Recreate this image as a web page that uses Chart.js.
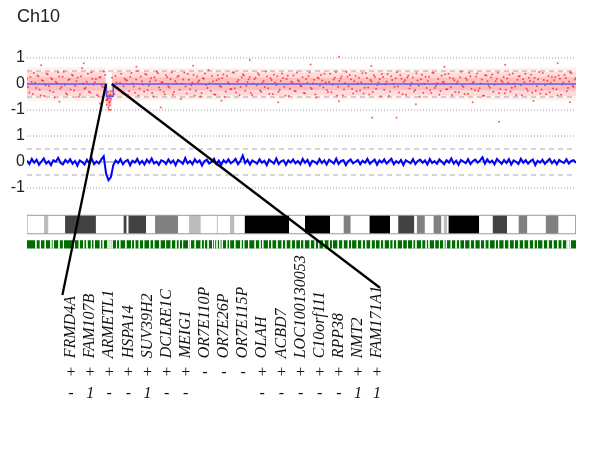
<!DOCTYPE html>
<html lang="en">
<head>
    <meta charset="UTF-8">
    <title>Ch10 copy number</title>
    <script src="https://cdn.jsdelivr.net/npm/chart.js"></script>
    <style>
        body { margin: 0; background: #fff; }
    </style>
</head>
<body>
<canvas id="cnChart" width="600" height="450"></canvas>

<script>
    // chromosome 10, positions in Mb
    const chrLength = 135.5;

    // y axis: upper panel (raw log ratio) around 0, lower panel (smoothed) shifted down
    const lowerOffset = -3;
    const yTickVals = [1, 0, -1, -2, -3, -4];
    const yTickText = ['1', '0', '-1', '1', '0', '-1'];
    const refLevels = [1, 0.5, -0.5, -1];

    // segmentation of the raw data
    const segStart = [0, 19.6, 21.3];
    const segEnd = [19.6, 21.3, 135.5];
    const segMean = [0, -0.47, 0];

    // envelopes of the dense probe cloud (outer, middle, core)
    const cloudX = [0, 19.4, 19.5, 20.9, 21.0, 40, 60, 80, 100, 120, 135.5];
    const outerHi = [0.64, 0.64, -0.1, -0.1, 0.64, 0.62, 0.6, 0.6, 0.6, 0.62, 0.64];
    const outerLo = [-0.64, -0.64, -1.0, -1.0, -0.64, -0.62, -0.6, -0.6, -0.6, -0.62, -0.64];
    const midHi = [0.46, 0.46, -0.2, -0.2, 0.46, 0.45, 0.44, 0.44, 0.44, 0.45, 0.46];
    const midLo = [-0.46, -0.46, -0.88, -0.88, -0.46, -0.45, -0.44, -0.44, -0.44, -0.45, -0.46];
    const coreHi = [0.26, 0.26, -0.3, -0.3, 0.26, 0.25, 0.24, 0.24, 0.24, 0.25, 0.26];
    const coreLo = [-0.26, -0.26, -0.75, -0.75, -0.26, -0.25, -0.24, -0.24, -0.24, -0.25, -0.26];

    // sampled raw probes along the chromosome (two interleaved runs)
    const rawLogR = [
        0.21,-0.33,0.08,0.42,-0.15,0.30,-0.44,0.12,-0.05,0.37,
        -0.26,0.18,-0.52,0.04,0.29,-0.11,0.47,-0.36,0.15,-0.21,
        0.33,-0.07,0.25,-0.40,0.61,-0.18,0.09,-0.30,0.44,-0.02,
        0.19,-0.47,0.27,-0.12,0.35,-0.55,-0.82,0.24,-0.38,0.06,
        -0.24,0.39,-0.09,0.16,-0.43,0.28,0.02,-0.34,0.50,-0.17,
        0.11,-0.29,0.36,-0.06,0.22,-0.48,0.14,0.41,-0.23,0.07,
        -0.39,0.26,-0.13,0.45,-0.31,0.03,0.32,-0.58,0.17,-0.10,
        0.38,-0.20,0.05,-0.45,0.29,0.13,-0.35,0.20,-0.04,0.54,
        -0.27,0.10,-0.41,0.34,-0.08,0.23,-0.50,0.31,0.01,-0.19,
        0.43,-0.33,0.15,-0.12,0.37,-0.26,0.08,0.27,-0.42,0.18,
        -0.05,0.35,-0.30,0.12,0.48,-0.16,0.22,-0.38,0.06,0.30,
        -0.22,0.40,-0.11,0.19,-0.46,0.09,0.33,-0.28,0.14,-0.07,
        0.26,-0.36,0.04,0.44,-0.19,0.16,-0.52,0.21,0.35,-0.13,
        0.07,-0.31,0.39,-0.03,0.24,-0.44,0.12,0.29,-0.21,0.46,
        -0.09,0.18,-0.37,0.31,0.02,-0.25,0.41,-0.14,0.23,-0.40,
        0.10,0.34,-0.18,0.06,-0.47,0.27,-0.02,0.38,-0.29,0.15,
        -0.11,0.45,-0.33,0.20,0.08,-0.41,0.32,-0.06,0.25,-0.23,
        0.13,-0.49,0.36,0.01,-0.15,0.28,-0.35,0.42,-0.08,0.19,
        -0.27,0.09,0.37,-0.20,0.24,-0.43,0.14,0.03,-0.32,0.47,
        -0.12,0.22,-0.38,0.30,0.05,-0.24,0.40,-0.16,0.17,-0.45,
        0.33,-0.07,0.26,-0.30,0.11,0.43,-0.19,0.08,-0.36,0.21,
        0.36,-0.14,0.02,-0.42,0.29,-0.05,0.18,0.39,-0.26,0.12,
        -0.33,0.24,-0.09,0.46,-0.21,0.15,-0.39,0.31,0.04,-0.17,
        0.27,-0.44,0.20,-0.02,0.35,-0.28,0.10,0.41,-0.12,0.23
    ];
    const rawLogR2 = [
        -0.12,0.27,-0.38,0.05,0.33,-0.21,0.14,-0.46,0.40,-0.08,
        0.22,-0.31,0.09,0.45,-0.17,0.28,-0.03,-0.40,0.18,0.36,
        -0.25,0.11,-0.49,0.30,0.02,-0.14,0.39,-0.33,0.20,0.07,
        -0.42,0.25,-0.06,0.48,-0.62,-0.45,-0.28,-0.28,0.31,-0.15,
        0.04,-0.36,0.21,0.13,-0.27,0.42,-0.10,0.17,-0.44,0.29,
        -0.02,0.38,-0.23,0.10,-0.35,0.26,0.47,-0.13,0.06,-0.30,
        0.34,-0.09,0.19,-0.41,0.12,0.28,-0.22,0.01,0.43,-0.37,
        0.16,-0.05,0.35,-0.26,0.08,-0.48,0.23,0.40,-0.15,0.03,
        0.31,-0.39,0.14,0.20,-0.11,0.37,-0.29,0.07,-0.20,0.45,
        -0.16,0.09,-0.43,0.26,0.33,-0.07,0.18,-0.34,0.02,0.24,
        0.41,-0.25,0.05,-0.12,0.29,-0.38,0.15,0.36,-0.04,-0.30,
        0.12,0.23,-0.45,0.32,-0.18,0.06,-0.27,0.44,0.10,-0.09,
        -0.35,0.19,0.30,-0.14,0.03,-0.40,0.25,-0.06,0.13,0.39,
        -0.23,0.08,-0.32,0.17,0.46,-0.11,0.21,-0.44,0.04,0.28,
        0.35,-0.19,0.11,-0.28,0.24,0.07,-0.37,0.42,-0.13,0.15,
        -0.31,0.27,-0.04,0.19,0.38,-0.22,0.09,-0.46,0.30,0.01,
        0.22,-0.10,0.34,-0.39,0.14,0.25,-0.17,0.05,-0.29,0.41,
        -0.07,0.18,-0.34,0.28,0.12,-0.24,0.44,-0.15,0.03,-0.41,
        0.32,0.06,-0.20,0.39,-0.12,0.21,-0.31,0.10,0.26,-0.06,
        -0.38,0.15,0.43,-0.18,0.08,0.29,-0.27,0.02,-0.45,0.34,
        0.11,-0.14,0.37,-0.03,0.20,-0.36,0.13,0.27,-0.22,0.05,
        -0.29,0.40,-0.10,0.16,0.31,-0.43,0.07,-0.18,0.24,0.36,
        0.09,-0.26,0.18,-0.37,0.42,-0.05,0.12,-0.32,0.28,0.14,
        -0.20,0.33,-0.41,0.06,0.23,-0.15,0.45,-0.08,0.17,-0.30
    ];
    // scattered outliers and the deleted region
    const outX = [3.5, 8, 14, 18, 27, 33, 41, 48, 55, 62, 70, 77, 77, 85, 85.2, 91.2, 96, 103, 110, 116.5, 118, 125, 131, 134,
                  19.6, 19.7, 19.8, 19.9, 20.0, 20.1, 20.2, 20.2, 20.3, 20.4, 20.5, 20.6, 20.7, 20.8];
    const outY = [0.72, -0.68, 0.8, -0.75, 0.66, -0.9, 0.7, -0.64, 0.92, -0.7, 0.75, -0.66, 1.05, 0.69, -1.3, -1.3, -0.78, 0.66, -0.7, -1.45, 0.74, -0.65, 0.8, -0.7,
                  -0.35, -0.8, -0.62, -0.48, -0.3, -0.9, -0.55, -0.98, -0.72, -0.66, -0.4, -1.0, -0.58, -0.45];

    // smoothed profile (lower panel)
    const smoothLogR = [
        0.05,-0.08,0.12,-0.03,0.09,-0.11,0.02,0.14,-0.06,0.03,
        -0.12,0.07,0.01,0.16,-0.04,-0.09,0.08,-0.02,0.11,-0.07,
        0.04,-0.14,0.06,0.00,-0.10,0.09,-0.05,0.13,-0.08,0.02,
        -0.06,0.10,0.22,-0.45,-0.70,-0.58,-0.12,0.06,-0.04,0.11,
        -0.09,0.03,0.08,-0.13,0.05,-0.02,0.12,-0.07,0.04,-0.10,
        0.09,-0.03,0.14,-0.06,0.01,-0.11,0.07,0.03,-0.08,0.10,
        -0.04,0.06,-0.12,0.08,0.02,-0.07,0.15,-0.05,0.04,-0.09,
        0.11,-0.02,0.06,-0.14,0.03,0.09,-0.06,0.01,0.13,-0.08,
        0.05,-0.11,0.07,-0.03,0.10,-0.05,0.02,0.12,-0.09,0.04,
        0.25,-0.04,0.08,-0.10,0.06,0.00,-0.07,0.11,-0.03,0.05,
        -0.12,0.09,0.02,-0.06,0.14,-0.08,0.03,0.07,-0.11,0.06,
        -0.02,0.10,-0.05,0.04,-0.09,0.12,-0.03,0.08,-0.13,0.05,
        0.01,-0.07,0.11,-0.04,0.06,-0.10,0.09,0.02,-0.06,0.13,
        -0.08,0.04,0.07,-0.12,0.03,0.10,-0.05,0.01,0.08,-0.09,
        0.05,-0.03,0.12,-0.07,0.02,0.09,-0.11,0.06,-0.02,0.10,
        -0.06,0.04,0.13,-0.09,0.03,-0.04,0.08,-0.12,0.07,0.01,
        -0.05,0.11,-0.08,0.04,0.09,-0.03,0.06,-0.10,0.12,-0.04,
        0.03,-0.07,0.10,0.01,-0.09,0.07,-0.02,0.14,-0.06,0.05,
        -0.11,0.08,0.02,-0.05,0.11,-0.08,0.04,0.09,-0.03,0.06,
        0.18,-0.06,0.10,-0.02,0.05,-0.09,0.12,0.03,-0.07,0.08,
        -0.04,0.11,-0.10,0.06,0.01,-0.08,0.13,-0.03,0.07,-0.06,
        0.04,0.10,-0.12,0.05,-0.02,0.09,-0.07,0.03,0.12,-0.05,
        0.06,-0.09,0.08,0.01,-0.04,0.11,-0.06,0.04,0.07,-0.03
    ];

    // ideogram (stained bands only), Mb
    const bandStart = [4.2, 9.4, 23.8, 25.0, 31.6, 40.0, 50.1, 53.7, 68.6, 78.1, 84.5, 91.6, 96.2, 100.3, 102.8, 104.0, 114.9, 121.3, 128.0];
    const bandEnd = [5.3, 17.0, 24.6, 29.4, 37.3, 42.9, 51.2, 64.7, 74.8, 79.9, 89.6, 95.6, 98.2, 102.3, 103.7, 111.6, 118.5, 123.5, 131.2];
    const bandStain = ['gpos25','gpos75','gpos75','gpos75','gpos50','gpos25','gpos25','gpos100','gpos100','gpos50',
                       'gpos100','gpos75','gpos50','gpos50','gpos25','gpos100','gpos75','gpos50','gpos50'];
    const centromere = 47.0;

    // gaps in the gene track, Mb
    const geneGaps = [2.2, 3.3, 4.5, 5.9, 6.5, 7.9, 9.0, 11.7, 12.9, 14.0, 14.8, 15.9, 16.6, 18.1, 18.8, 20.0, 20.5, 21.0,
        22.1, 22.9, 24.4, 25.8, 26.6, 27.7, 28.8, 30.3, 31.3, 32.8, 34.2, 35.6, 36.8, 37.6, 38.4, 39.9, 40.3, 41.5,
        43.0, 43.8, 44.7, 45.8, 46.3, 46.9, 47.6, 48.2, 49.3, 50.0, 51.3, 52.8, 53.5, 54.7, 56.3, 57.5, 58.2, 59.6,
        60.4, 61.7, 63.0, 63.9, 65.2, 66.3, 67.5, 68.4, 69.9, 71.1, 72.0, 73.3, 74.6, 75.4, 76.8, 78.0, 79.3, 80.1,
        81.5, 82.7, 83.6, 84.9, 86.0, 87.2, 88.1, 89.5, 90.4, 91.3, 92.7, 93.9, 95.2, 96.0, 97.4, 98.5, 99.2, 100.6,
        101.8, 102.9, 103.5, 104.7, 105.9, 106.8, 108.0, 109.4, 110.5, 111.9, 113.0, 114.1, 115.6, 116.4, 117.8,
        119.0, 120.3, 121.4, 122.6, 123.9, 125.1, 126.0, 127.4, 128.6, 129.8, 131.0, 132.1, 133.3, 133.7, 134.1];

    // genes in the zoomed region
    const genes = ['FRMD4A','FAM107B','ARMETL1','HSPA14','SUV39H2','DCLRE1C','MEIG1','OR7E110P','OR7E26P',
                   'OR7E115P','OLAH','ACBD7','LOC100130053','C10orf111','RPP38','NMT2','FAM171A1'];
    const strand = ['+','+','+','+','+','+','+','-','-','-','+','+','+','+','+','+','+'];
    const copyCall = ['-','1','-','-','1','-','-','','','','-','-','-','-','-','1','1'];
    const zoomStart = 19.5;
    const zoomEnd = 20.9;

    // layout of the lower tracks, in y units
    const ideoTop = -5.05, ideoBot = -5.76;
    const geneTop = -6.01, geneBot = -6.33;
    const nameRowY = -10.55, strandRowY = -11.12, callRowY = -11.9;

    const stainColor = { gpos25: '#bcbcbc', gpos50: '#808080', gpos75: '#424242', gpos100: '#000000' };
    const clear = 'rgba(0,0,0,0)';

    function line(data, extra) {
        return Object.assign({ type: 'line', data: data, pointRadius: 0, borderWidth: 1, fill: false, tension: 0 }, extra);
    }

    const datasets = [];

    // reference lines
    [0, lowerOffset].forEach(off => {
        refLevels.forEach(lv => {
            const dotted = Math.abs(lv) === 1;
            datasets.push(line([{x: 0, y: lv + off}, {x: chrLength, y: lv + off}], {
                borderColor: dotted ? '#9a9a9a' : '#ababab',
                borderDash: dotted ? [1, 2] : [5, 4],
                order: 20
            }));
        });
    });
    datasets.push(line([{x: 0, y: lowerOffset}, {x: chrLength, y: lowerOffset}], { borderColor: '#c4c4c4', borderWidth: 2, order: 20 }));

    // probe cloud density, three nested bands
    [[outerHi, outerLo, 0.06, 17], [midHi, midLo, 0.09, 16], [coreHi, coreLo, 0.13, 15]].forEach(b => {
        datasets.push(line(cloudX.map((x, i) => ({x: x, y: b[0][i]})), { fill: '+1', backgroundColor: 'rgba(255,0,0,' + b[2] + ')', borderColor: clear, order: b[3] }));
        datasets.push(line(cloudX.map((x, i) => ({x: x, y: b[1][i]})), { borderColor: clear, order: b[3] }));
    });

    // raw probes
    const rawStep = chrLength / (rawLogR.length - 1);
    const rawPts = rawLogR.map((v, i) => ({x: i * rawStep, y: v}))
        .concat(rawLogR2.map((v, i) => ({x: (i + 0.5) * rawStep, y: v})))
        .concat(outX.map((x, i) => ({x: x, y: outY[i]})));
    datasets.push({
        type: 'line', showLine: false, order: 12, data: rawPts,
        pointRadius: 1, pointBorderWidth: 0, pointBackgroundColor: 'rgba(255,0,0,0.65)'
    });

    // segment means
    const segPts = [];
    segStart.forEach((s, i) => { segPts.push({x: s, y: segMean[i]}, {x: segEnd[i], y: segMean[i]}); });
    datasets.push(line(segPts, { borderColor: '#5a5aff', borderWidth: 1.5, order: 10 }));

    // smoothed profile
    const smoothStep = chrLength / (smoothLogR.length - 1);
    datasets.push(line(smoothLogR.map((v, i) => ({x: i * smoothStep, y: v + lowerOffset})), { borderColor: '#0000ff', borderWidth: 2, order: 10 }));

    // ideogram
    bandStart.forEach((s, i) => {
        datasets.push(line([{x: s, y: ideoTop}, {x: bandEnd[i], y: ideoTop}], {
            fill: {value: ideoBot}, backgroundColor: stainColor[bandStain[i]], borderColor: clear, order: 8
        }));
    });
    datasets.push(line([{x: centromere, y: ideoTop}, {x: centromere, y: ideoBot}], { borderColor: '#86ff86', order: 7 }));
    datasets.push(line([{x: 0, y: ideoTop}, {x: chrLength, y: ideoTop}, {x: chrLength, y: ideoBot}, {x: 0, y: ideoBot}, {x: 0, y: ideoTop}],
        { borderColor: '#9a9a9a', order: 6 }));

    // gene track
    datasets.push(line([{x: 0, y: geneTop}, {x: chrLength, y: geneTop}], {
        fill: {value: geneBot}, backgroundColor: '#006d00', borderColor: clear, order: 8
    }));
    const gapPts = [];
    geneGaps.forEach(g => { gapPts.push({x: g, y: geneTop}, {x: g, y: geneBot}, {x: g, y: null}); });
    datasets.push(line(gapPts, { borderColor: 'rgba(255,255,255,0.9)', spanGaps: false, order: 7 }));

    // zoom connectors and gene table
    const zoomGenes = {
        id: 'zoomGenes',
        afterLayout(chart) {
            // title starts a little left of the plot area
            if (chart.titleBlock) chart.titleBlock.left = 17;
        },
        afterDraw(chart) {
            const {ctx, scales} = chart;
            const x = scales.x, xg = scales.xg, y = scales.y;
            const nameFont = 'italic 16px "Liberation Serif", "Times New Roman", serif';
            ctx.save();
            ctx.font = nameFont;
            const baseY = y.getPixelForValue(nameRowY);
            const topOf = i => baseY - ctx.measureText(genes[i]).width;

            ctx.strokeStyle = '#000';
            ctx.lineWidth = 2.3;
            ctx.beginPath();
            ctx.moveTo(x.getPixelForValue(zoomStart), y.getPixelForValue(0));
            ctx.lineTo(xg.getPixelForValue(-0.45), topOf(0) - 1);
            ctx.moveTo(x.getPixelForValue(zoomEnd), y.getPixelForValue(0));
            ctx.lineTo(xg.getPixelForValue(genes.length - 1 + 0.15), topOf(genes.length - 1) + 2);
            ctx.stroke();

            ctx.fillStyle = '#111';
            genes.forEach((g, i) => {
                const px = xg.getPixelForValue(i);
                ctx.save();
                ctx.translate(px, baseY);
                ctx.rotate(-Math.PI / 2);
                ctx.font = nameFont;
                ctx.textAlign = 'left';
                ctx.textBaseline = 'middle';
                ctx.fillText(g, 0, 0);
                ctx.restore();

                ctx.textAlign = 'center';
                ctx.textBaseline = 'middle';
                ctx.font = '16px "Liberation Serif", "Times New Roman", serif';
                ctx.fillText(strand[i], px, y.getPixelForValue(strandRowY));
                ctx.font = nameFont;
                ctx.fillText(copyCall[i], px, y.getPixelForValue(callRowY));
            });
            ctx.restore();
        }
    };

    new Chart(document.getElementById('cnChart'), {
        type: 'line',
        data: { datasets: datasets },
        options: {
            responsive: false,
            animation: false,
            devicePixelRatio: 1,
            events: [],
            layout: { padding: { left: 0, right: 24, top: 0, bottom: 184 } },
            plugins: {
                legend: { display: false },
                tooltip: { enabled: false },
                title: {
                    display: true,
                    text: 'Ch10',
                    align: 'start',
                    color: '#222',
                    font: { family: 'Arial, "Liberation Sans", sans-serif', size: 18, weight: 'normal' },
                    padding: { top: 6, bottom: 17.4 }
                }
            },
            scales: {
                x: { type: 'linear', min: 0, max: chrLength, display: false },
                xg: { type: 'linear', axis: 'x', min: -2.3, max: 26.4, display: false },
                y: {
                    type: 'linear',
                    min: -7,
                    max: 1.5,
                    afterFit(scale) { scale.width = 27; },
                    afterBuildTicks(scale) { scale.ticks = yTickVals.map(v => ({ value: v })); },
                    grid: { display: false, drawTicks: false },
                    border: { display: false },
                    ticks: {
                        autoSkip: false,
                        padding: 2,
                        color: '#222',
                        font: { family: 'Arial, "Liberation Sans", sans-serif', size: 16 },
                        callback: v => yTickText[yTickVals.indexOf(v)]
                    }
                }
            }
        },
        plugins: [zoomGenes]
    });
</script>
</body>
</html>
